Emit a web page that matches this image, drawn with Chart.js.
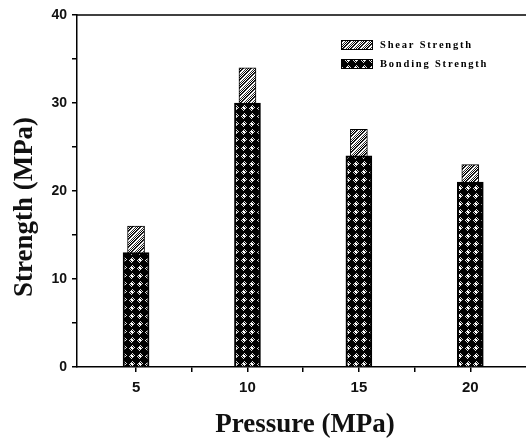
<!DOCTYPE html>
<html lang="en">
<head>
  <meta charset="UTF-8">
  <title>Strength vs Pressure</title>
  <script src="https://cdn.jsdelivr.net/npm/chart.js"></script>
  <style>
    body { margin: 0; background: #fff; }
    #chart-box { width: 526px; height: 444px; }
  </style>
</head>
<body>

<div id="chart-box">
  <canvas id="strength-chart" width="526" height="444"></canvas>
</div>

<script>
// data
const pressures = [5, 10, 15, 20];
const shearStrength = [16, 34, 27, 23];
const bondingStrength = [13, 30, 24, 21];
const xTicks = [5, 7.5, 10, 12.5, 15, 17.5, 20];
const seriesNames = ['Shear Strength', 'Bonding Strength'];

// small pixel tiles for the hatch fills
function makePattern(drawTile) {
  const c = document.createElement('canvas');
  c.width = 8;
  c.height = 8;
  const g = c.getContext('2d');
  drawTile(g);
  return g.createPattern(c, 'repeat');
}

// grey checker with white "/" stripes
const shearFill = makePattern(g => {
  for (let y = 0; y < 8; y++) {
    for (let x = 0; x < 8; x++) {
      const d = (x + y) % 8;
      let col = (x + y) % 2 === 0 ? '#000' : '#fff';
      if (d === 0 || d === 1) col = '#fff';
      if (d === 2 || d === 7) col = '#333';
      g.fillStyle = col;
      g.fillRect(x, y, 1, 1);
    }
  }
});

// black with checkered diamonds
const bondingFill = makePattern(g => {
  g.fillStyle = '#000';
  g.fillRect(0, 0, 8, 8);
  for (let y = 0; y < 8; y++) {
    for (let x = 0; x < 8; x++) {
      const r = Math.abs(x - 3.5) + Math.abs(y - 3.5);
      if (r <= 1.5) {
        g.fillStyle = '#fff';
        g.fillRect(x, y, 1, 1);
      } else if (r <= 3 && (x + y) % 2 === 1) {
        g.fillStyle = '#ddd';
        g.fillRect(x, y, 1, 1);
      }
    }
  }
});

// top frame line, axis titles and the boxed legend
const decorations = {
  id: 'decorations',
  afterDraw(chart) {
    const ctx = chart.ctx;
    const area = chart.chartArea;
    ctx.save();
    ctx.strokeStyle = '#000';
    ctx.lineWidth = 1.5;
    ctx.beginPath();
    ctx.moveTo(area.left, area.top);
    ctx.lineTo(area.right, area.top);
    ctx.stroke();

    ctx.fillStyle = '#111';
    ctx.font = 'bold 27px "Liberation Serif"';
    ctx.textAlign = 'center';
    ctx.textBaseline = 'middle';
    ctx.fillText('Pressure (MPa)', 305, 425);

    ctx.save();
    ctx.translate(25, 207);
    ctx.rotate(-Math.PI / 2);
    ctx.fillText('Strength (MPa)', 0, 0);
    ctx.restore();

    const fills = [shearFill, bondingFill];
    ctx.font = 'bold 10.5px "Liberation Serif"';
    ctx.letterSpacing = '1.8px';
    ctx.textAlign = 'left';
    seriesNames.forEach((name, i) => {
      const y = 40 + i * 19;
      ctx.fillStyle = fills[i];
      ctx.fillRect(341, y, 32, 10);
      ctx.lineWidth = 1;
      ctx.strokeRect(341.5, y + 0.5, 31, 9);
      ctx.fillStyle = '#000';
      ctx.fillText(name, 380, y + 5);
    });
    ctx.restore();
  }
};

const ctx = document.getElementById('strength-chart').getContext('2d');
const strengthChart = new Chart(ctx, {
  type: 'bar',
  data: {
    datasets: [{
      label: seriesNames[0],
      data: pressures.map((p, i) => ({ x: p, y: shearStrength[i] })),
      backgroundColor: shearFill,
      borderColor: '#000',
      borderWidth: 1,
      barThickness: 17,
      grouped: false,
      order: 1
    }, {
      label: seriesNames[1],
      data: pressures.map((p, i) => ({ x: p, y: bondingStrength[i] })),
      backgroundColor: bondingFill,
      borderColor: '#000',
      borderWidth: 2,
      barThickness: 26,
      grouped: false,
      order: 0
    }]
  },
  options: {
    responsive: false,
    animation: false,
    layout: { padding: { top: 15, right: 0, left: 0, bottom: 0 } },
    plugins: {
      legend: { display: false },
      tooltip: { enabled: false }
    },
    scales: {
      x: {
        type: 'linear',
        offset: false,
        min: 2.35,
        max: 22.5,
        afterBuildTicks: scale => { scale.ticks = xTicks.map(v => ({ value: v })); },
        afterFit: scale => { scale.height = 77; },
        ticks: {
          autoSkip: false,
          maxRotation: 0,
          padding: 7,
          color: '#111',
          font: { family: 'Liberation Sans', weight: 'bold', size: 15 },
          callback: v => (v % 5 === 0 ? v : '')
        },
        grid: { offset: false, drawOnChartArea: false, tickLength: 5, color: '#000', lineWidth: 1.5 },
        border: { color: '#000', width: 1.5 }
      },
      y: {
        min: 0,
        max: 40,
        afterFit: scale => { scale.width = 77; },
        ticks: {
          stepSize: 5,
          padding: 5,
          color: '#111',
          font: { family: 'Liberation Sans', weight: 'bold', size: 14 },
          callback: v => (v % 10 === 0 ? v : '')
        },
        grid: { drawOnChartArea: false, tickLength: 5, color: '#000', lineWidth: 1.5 },
        border: { color: '#000', width: 1.5 }
      }
    }
  },
  plugins: [decorations]
});
</script>

</body>
</html>
